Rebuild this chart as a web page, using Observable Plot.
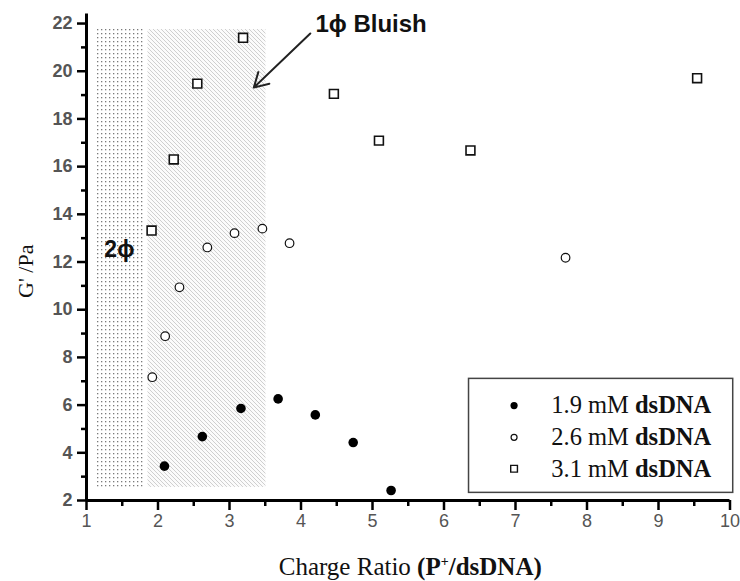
<!DOCTYPE html>
<html><head><meta charset="utf-8">
<script src="https://cdn.jsdelivr.net/npm/d3@7"></script>
<script src="https://cdn.jsdelivr.net/npm/@observablehq/plot@0.6"></script>
<style>html,body{margin:0;padding:0;background:#fff} svg{display:block}</style>
</head><body><div id="chart"></div>
<script>
// ---- data ----
const seriesNames = ["1.9 mM dsDNA", "2.6 mM dsDNA", "3.1 mM dsDNA"];
const ratio19 = [2.09, 2.62, 3.16, 3.68, 4.20, 4.73, 5.26];
const g19     = [3.44, 4.68, 5.86, 6.26, 5.59, 4.43, 2.42];
const ratio26 = [1.92, 2.10, 2.30, 2.69, 3.07, 3.46, 3.84, 7.70];
const g26     = [7.17, 8.89, 10.94, 12.61, 13.21, 13.40, 12.79, 12.18];
const ratio31 = [1.91, 2.22, 2.55, 3.19, 4.46, 5.09, 6.37, 9.54];
const g31     = [13.32, 16.30, 19.48, 21.40, 19.05, 17.09, 16.68, 19.71];
const xTicks = [1, 2, 3, 4, 5, 6, 7, 8, 9, 10];
const xMinor = [1.5, 2.5, 3.5, 4.5, 5.5, 6.5, 7.5, 8.5, 9.5];
const yTicks = [2, 4, 6, 8, 10, 12, 14, 16, 18, 20, 22];
const yMinor = [3, 5, 7, 9, 11, 13, 15, 17, 19, 21];
const phaseNames = ["2ϕ", "1ϕ Bluish"];
const phaseStart = [1.14, 1.86];
const phaseEnd   = [1.80, 3.51];
const phaseLow = 2.55, phaseHigh = 21.75;

const toPts = (xs, ys) => xs.map((x, i) => ({x, y: ys[i]}));
const s19 = toPts(ratio19, g19), s26 = toPts(ratio26, g26), s31 = toPts(ratio31, g31);

// annotation / legend layout (data coordinates)
const legendBox = {x1: 6.35, x2: 10.045, y1: 2.32, y2: 7.10};
const legendSymX = 6.98, legendTextX = 7.50;
const legendRowY = [5.98, 4.65, 3.33];
const legendRows = seriesNames.map((name, i) => ({name, y: legendRowY[i]}));

const serif = "'Liberation Serif','Times New Roman',serif";
const sans = "'Liberation Sans',Arial,sans-serif";

const svg = Plot.plot({
  width: 740, height: 581,
  marginLeft: 86, marginRight: 10.5, marginTop: 13.5, marginBottom: 81,
  x: {domain: [1, 10]},
  y: {domain: [2, 22.4]},
  style: {background: "#fff", fontFamily: sans},
  marks: [
    Plot.rect([0], {x1: phaseStart[0], x2: phaseEnd[0], y1: phaseLow, y2: phaseHigh, fill: "url(#dots)"}),
    Plot.rect([0], {x1: phaseStart[1], x2: phaseEnd[1], y1: phaseLow, y2: phaseHigh, fill: "url(#hatch)"}),
    Plot.axisX({ticks: xMinor, tickSize: 6, tickFormat: () => "", label: null, stroke: "#000", strokeWidth: 2.5, strokeOpacity: 1}),
    Plot.axisY({ticks: yMinor, tickSize: 5, tickFormat: () => "", label: null, stroke: "#000", strokeWidth: 2.5, strokeOpacity: 1}),
    Plot.axisX({ticks: xTicks, tickSize: 10, tickPadding: 4, tickFormat: d => String(d), label: null,
      stroke: "#000", strokeWidth: 2.5, strokeOpacity: 1, fill: "#555", fontSize: 18, fontFamily: sans}),
    Plot.axisY({ticks: yTicks, tickSize: 9, tickPadding: 5, tickFormat: d => String(d), label: null,
      stroke: "#000", strokeWidth: 2.5, strokeOpacity: 1, fill: "#555", fontSize: 18, fontFamily: sans, fontWeight: "bold"}),
    Plot.ruleY([2], {strokeWidth: 3, stroke: "#000"}),
    Plot.ruleX([1], {strokeWidth: 3, stroke: "#000"}),
    Plot.text(["G' /Pa"], {frameAnchor: "left", dx: -61, dy: 14, rotate: -90, textAnchor: "middle",
      lineAnchor: "middle", fontFamily: serif, fontSize: 22, fill: "#111"}),
    Plot.text(["Charge Ratio (P+/dsDNA)"], {frameAnchor: "bottom", dx: 2, dy: 66, textAnchor: "middle",
      lineAnchor: "middle", fontFamily: serif, fontSize: 25, fill: "#111", className: "xtitle"}),
    Plot.text([phaseNames[0]], {x: 1.46, y: 12.52, fontFamily: sans, fontWeight: "bold", fontSize: 23, fill: "#111"}),
    Plot.text([phaseNames[1]], {x: 4.98, y: 21.95, fontFamily: sans, fontWeight: "bold", fontSize: 24, fill: "#111"}),
    Plot.arrow([0], {x1: 4.13, y1: 21.58, x2: 3.34, y2: 19.32, stroke: "#222", strokeWidth: 2, headLength: 12}),
    Plot.dot(s31, {x: "x", y: "y", symbol: "square", r: 5, fill: "#fff", stroke: "#111", strokeWidth: 1.6}),
    Plot.dot(s26, {x: "x", y: "y", symbol: "circle", r: 4.3, fill: "#fff", stroke: "#111", strokeWidth: 1.2}),
    Plot.dot(s19, {x: "x", y: "y", symbol: "circle", r: 4.8, fill: "#000", stroke: "none"}),
    Plot.rect([legendBox], {x1: "x1", x2: "x2", y1: "y1", y2: "y2", fill: "#fff", stroke: "#444", strokeWidth: 1.5}),
    Plot.dot([legendRows[0]], {x: legendSymX, y: "y", symbol: "circle", r: 3.6, fill: "#000"}),
    Plot.dot([legendRows[1]], {x: legendSymX, y: "y", symbol: "circle", r: 3, fill: "#fff", stroke: "#111", strokeWidth: 1.2}),
    Plot.dot([legendRows[2]], {x: legendSymX, y: "y", symbol: "square", r: 3.8, fill: "#fff", stroke: "#111", strokeWidth: 1.4}),
    Plot.text(legendRows, {x: legendTextX, y: "y", text: "name", textAnchor: "start", lineAnchor: "middle",
      fontFamily: serif, fontSize: 24.5, fill: "#111", className: "legendtxt"})
  ]
});

// patterns
const root = d3.select(svg);
const defs = root.insert("defs", ":first-child");
const dots = defs.append("pattern").attr("id", "dots").attr("patternUnits", "userSpaceOnUse")
  .attr("width", 4).attr("height", 4);
dots.append("rect").attr("width", 4).attr("height", 4).attr("fill", "#fff");
dots.append("rect").attr("x", 1).attr("y", 1).attr("width", 1.3).attr("height", 1.3).attr("fill", "#7a7a7a");
const hatch = defs.append("pattern").attr("id", "hatch").attr("patternUnits", "userSpaceOnUse")
  .attr("width", 4).attr("height", 4);
hatch.append("rect").attr("width", 4).attr("height", 4).attr("fill", "#fbfbfb");
hatch.append("path").attr("d", "M-1,-1 L5,5 M-1,3 L1,5 M3,-1 L5,1")
  .attr("stroke", "#cfcfcf").attr("stroke-width", 1);

// mixed-weight text
root.selectAll("g.xtitle text").each(function () {
  const t = d3.select(this); t.text("");
  t.append("tspan").text("Charge Ratio ");
  t.append("tspan").attr("font-weight", "bold").text("(P");
  t.append("tspan").attr("font-weight", "bold").attr("font-size", 14).attr("dy", -9).text("+");
  t.append("tspan").attr("font-weight", "bold").attr("dy", 9).text("/dsDNA)");
});
root.selectAll("g.legendtxt text").each(function () {
  const t = d3.select(this); const s = t.text(); const k = s.lastIndexOf(" ");
  t.text("");
  t.append("tspan").text(s.slice(0, k + 1));
  t.append("tspan").attr("font-weight", "bold").text(s.slice(k + 1));
});

document.getElementById("chart").appendChild(svg);
</script>
</body></html>
